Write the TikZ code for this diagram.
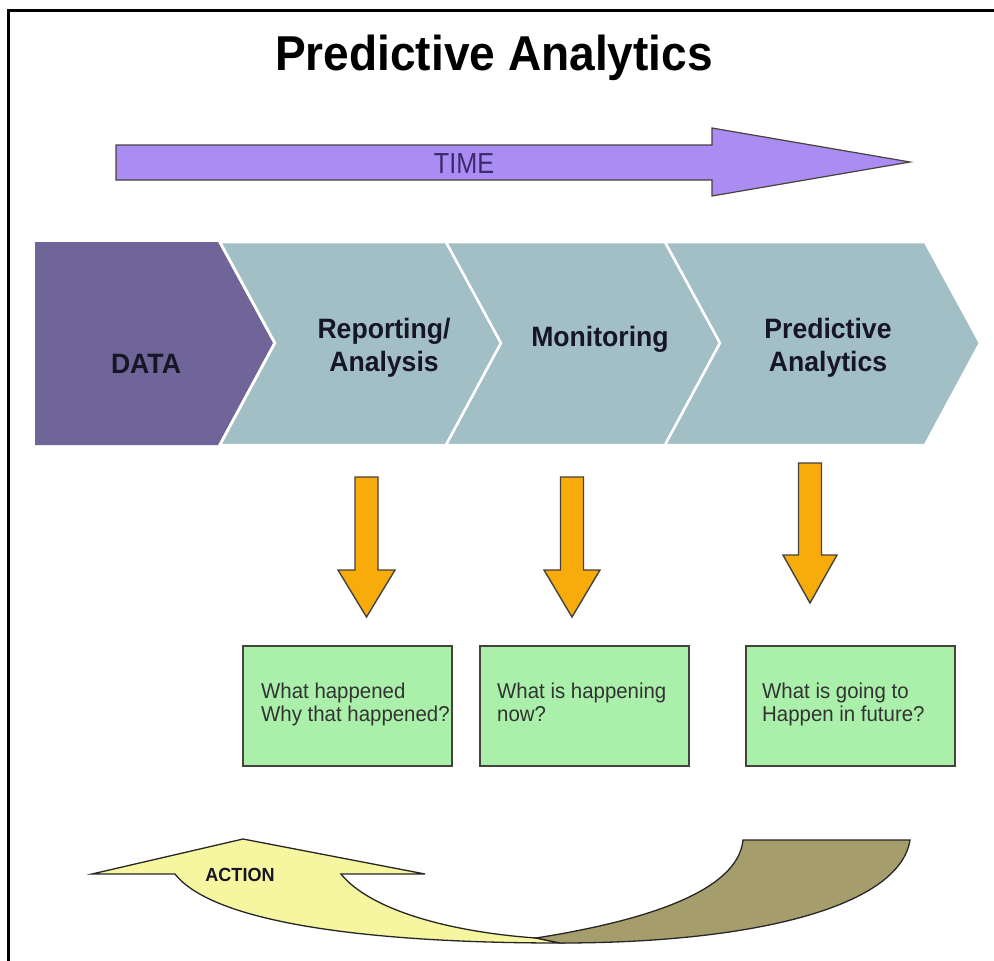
\documentclass[tikz,border=0pt]{standalone}
\usepackage{fontspec}
\setmainfont{Liberation Sans}
\newfontfamily\titlefont[FakeStretch=0.94]{Liberation Sans}
\newfontfamily\chevfont[FakeStretch=0.95]{Liberation Sans}
\newfontfamily\timefont[FakeStretch=0.87]{Liberation Sans}
\newfontfamily\boxfont[FakeStretch=0.95]{Liberation Sans}
\definecolor{datapurple}{RGB}{111,101,152}
\definecolor{stepteal}{RGB}{161,191,196}
\definecolor{timelav}{RGB}{170,140,242}
\definecolor{timetext}{RGB}{60,42,110}
\definecolor{darktext}{RGB}{22,22,38}
\definecolor{arroworange}{RGB}{248,172,12}
\definecolor{boxgreen}{RGB}{170,240,170}
\definecolor{actyellow}{RGB}{247,246,160}
\definecolor{actolive}{RGB}{165,158,108}
\definecolor{edgegray}{RGB}{70,66,60}
\tikzset{
  stepshape/.style={draw=white,line width=2.5pt,line join=miter},
  steplabel/.style={font=\chevfont\fontsize{28}{33}\selectfont\bfseries,text=darktext,align=center},
  blockarrow/.style={fill=arroworange,draw=edgegray,line width=1.4pt,line join=miter},
  answerbox/.style={fill=boxgreen,draw=edgegray,line width=1.6pt},
  answertext/.style={font=\boxfont\fontsize{21.5}{22.5}\selectfont,text=black!80,align=left,anchor=base west},
  actionedge/.style={draw=black!85,line width=1.3pt,line join=miter}
}
\begin{document}
\begin{tikzpicture}[x=1pt,y=-1pt]
\useasboundingbox (0,0) rectangle (994,961);
\fill[white] (0,0) rectangle (994,961);
% frame
\draw[line width=3pt] (8,961) -- (8,10) -- (994,10);
% title
\node[font=\titlefont\fontsize{49}{54}\selectfont\bfseries,anchor=base] (title) at (494,70) {Predictive Analytics};
% time arrow
\draw[fill=timelav,draw=edgegray,line width=1.2pt,line join=miter]
  (116,145) -- (712,145) -- (712,128) -- (910,162) -- (712,196) -- (712,180) -- (116,180) -- cycle;
\node[font=\timefont\fontsize{29}{30}\selectfont,text=timetext,anchor=base] (time) at (464,173) {TIME};
% chevrons
\fill[datapurple] (35,242) -- (218,242) -- (273,343) -- (218,445) -- (35,445) -- cycle;
\draw[stepshape,fill=stepteal] (220,242) -- (446,242) -- (501,343) -- (446,445) -- (220,445) -- (275,343) -- cycle;
\draw[stepshape,fill=stepteal] (446,242) -- (665,242) -- (720,343) -- (665,445) -- (446,445) -- (501,343) -- cycle;
\draw[stepshape,fill=stepteal] (665,242) -- (925,242) -- (980,343) -- (925,445) -- (665,445) -- (720,343) -- cycle;
\node[steplabel,anchor=base] (data) at (146,373) {DATA};
\node[steplabel] (report) at (384,348) {Reporting/\\Analysis};
\node[steplabel,anchor=base] (monitor) at (600,346) {Monitoring};
\node[steplabel] (predict) at (828,348) {Predictive\\Analytics};
% orange arrows
\draw[blockarrow] (355,477) -- (378,477) -- (378,570) -- (395,570) -- (366.5,617) -- (338,570) -- (355,570) -- cycle;
\draw[blockarrow] (560.5,477) -- (583.5,477) -- (583.5,570) -- (600,570) -- (572,617) -- (544,570) -- (560.5,570) -- cycle;
\draw[blockarrow] (798.5,463) -- (821.5,463) -- (821.5,555) -- (837,555) -- (810,603) -- (783,555) -- (798.5,555) -- cycle;
% answer boxes
\node[answerbox,minimum width=209pt,minimum height=120pt,anchor=north west] (box1) at (242,645) {};
\node[answerbox,minimum width=209pt,minimum height=120pt,anchor=north west] (box2) at (479,645) {};
\node[answerbox,minimum width=209pt,minimum height=120pt,anchor=north west] (box3) at (745,645) {};
\node[answertext,inner sep=0pt] (t1) at (261,721) {What happened\\Why that happened?};
\node[answertext,inner sep=0pt] (t2) at (497,721) {What is happening\\now?};
\node[answertext,inner sep=0pt] (t3) at (762,721) {What is going to\\Happen in future?};
% action arrow
\draw[actionedge,fill=actyellow]
  (92,874) -- (243,839) -- (425,874) -- (341,874)
  .. controls (370,910) and (450,932) .. (536,938)
  -- (560,943)
  .. controls (380,943) and (215,925) .. (175,874) -- cycle;
\draw[actionedge,fill=actolive]
  (743,840) -- (910,840)
  .. controls (900,905) and (760,943) .. (560,943)
  -- (536,938)
  .. controls (650,920) and (738,890) .. (743,840) -- cycle;
\node[font=\chevfont\fontsize{19}{20}\selectfont\bfseries,text=darktext,anchor=base] (action) at (240,881) {ACTION};
\end{tikzpicture}
\end{document}
